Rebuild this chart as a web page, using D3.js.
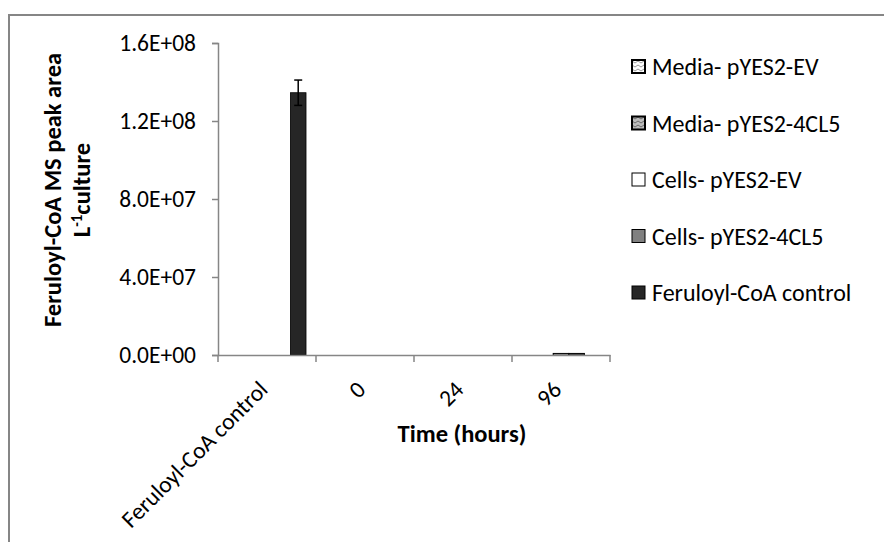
<!DOCTYPE html>
<html>
<head>
<meta charset="utf-8">
<script src="https://cdn.jsdelivr.net/npm/d3@7"></script>
<style>
  html, body { margin: 0; padding: 0; background: #fff; }
  svg { display: block; }
  text { font-family: Calibri, Carlito, Lato, "Open Sans", sans-serif; fill: #000; }
</style>
</head>
<body>
<svg id="chart" width="884" height="542"></svg>
<script>
// Feruloyl-CoA MS peak area per litre of culture, by sample and time point
const categories = ["Feruloyl-CoA control", "0", "24", "96"];
const seriesNames = ["Media- pYES2-EV", "Media- pYES2-4CL5", "Cells- pYES2-EV", "Cells- pYES2-4CL5", "Feruloyl-CoA control"];
const mediaEV     = [0, 0, 0, 0];
const media4CL5   = [0, 0, 0, 0];
const cellsEV     = [0, 0, 0, 8.0e5];
const cells4CL5   = [0, 0, 0, 8.0e5];
const control     = [1.345e8, 0, 0, 0];
const controlErr  = [6.5e6, 0, 0, 0];
const yTicks = [0, 4e7, 8e7, 1.2e8, 1.6e8];
const yTickLabels = ["0.0E+00", "4.0E+07", "8.0E+07", "1.2E+08", "1.6E+08"];

const seriesValues = [mediaEV, media4CL5, cellsEV, cells4CL5, control];
const seriesErrors = [null, null, null, null, controlErr];

const svg = d3.select("#chart");
const axisColor = "#868686";
const labelSize = "23.5px";
const titleSize = "24.5px";

// patterns for the two "Media" series
const defs = svg.append("defs");
function zigzag(id, bg, line) {
  const p = defs.append("pattern")
    .attr("id", id).attr("patternUnits", "userSpaceOnUse")
    .attr("width", 6).attr("height", 4);
  p.append("rect").attr("width", 6).attr("height", 4).attr("fill", bg);
  p.append("path").attr("d", "M0,1 L3,3 L6,1").attr("fill", "none")
    .attr("stroke", line).attr("stroke-width", 1);
}
zigzag("patMediaEV", "#ffffff", "#9a9a9a");
zigzag("patMedia4CL5", "#bdbdbd", "#6a6a6a");

const fills = ["url(#patMediaEV)", "url(#patMedia4CL5)", "#ffffff", "#808080", "#262626"];
const strokes = ["#000", "#000", "#000", "#000", "#000"];
const strokeW = [1.5, 1.5, 1, 1, 0.8];

// chart frame
svg.append("path")
  .attr("d", "M9,560 L9,15 L900,15")
  .attr("fill", "none").attr("stroke", axisColor).attr("stroke-width", 2);

const plot = { left: 218, right: 610, top: 43, bottom: 355 };

const x0 = d3.scaleBand().domain(categories).range([plot.left, plot.right]).paddingInner(0).paddingOuter(0);
const x1 = d3.scaleBand().domain(seriesNames).range([0, x0.bandwidth()]).paddingInner(0).paddingOuter(0.64);
const y = d3.scaleLinear().domain([0, 1.6e8]).range([plot.bottom, plot.top]);

// bars
seriesNames.forEach((name, si) => {
  const g = svg.append("g");
  g.selectAll("rect").data(categories.map((c, ci) => ({ c, v: seriesValues[si][ci] })).filter(d => d.v > 0))
    .join("rect")
    .attr("x", d => x0(d.c) + x1(name))
    .attr("y", d => y(d.v))
    .attr("width", x1.bandwidth())
    .attr("height", d => y(0) - y(d.v))
    .attr("fill", fills[si])
    .attr("stroke", strokes[si])
    .attr("stroke-width", strokeW[si]);
  const errs = seriesErrors[si];
  if (errs) {
    const eg = svg.append("g").attr("stroke", "#000").attr("stroke-width", 1.5);
    categories.forEach((c, ci) => {
      if (!errs[ci]) return;
      const cx = x0(c) + x1(name) + x1.bandwidth() / 2;
      const v = seriesValues[si][ci];
      eg.append("line").attr("x1", cx).attr("x2", cx).attr("y1", y(v + errs[ci])).attr("y2", y(v - errs[ci]));
      eg.append("line").attr("x1", cx - 4).attr("x2", cx + 4).attr("y1", y(v + errs[ci])).attr("y2", y(v + errs[ci]));
      eg.append("line").attr("x1", cx - 4).attr("x2", cx + 4).attr("y1", y(v - errs[ci])).attr("y2", y(v - errs[ci]));
    });
  }
});

// y axis
const yAxis = d3.axisLeft(y).tickValues(yTicks).tickSize(6).tickPadding(16)
  .tickFormat((d, i) => yTickLabels[i]);
const gy = svg.append("g").attr("transform", `translate(${plot.left},0)`).call(yAxis);
gy.select(".domain").attr("stroke", axisColor).attr("stroke-width", 1.5);
gy.selectAll(".tick line").attr("stroke", axisColor).attr("stroke-width", 1.5);
gy.selectAll(".tick text").style("font-size", labelSize).attr("fill", "#262626")
  .style("font-family", "Calibri, Carlito, Lato, sans-serif");

// x axis
const xAxis = d3.axisBottom(x0).tickSize(0).tickFormat("");
const gx = svg.append("g").attr("transform", `translate(0,${plot.bottom})`).call(xAxis);
gx.select(".domain").attr("stroke", axisColor).attr("stroke-width", 1.5);
const tickPos = categories.map(c => x0(c)).concat([plot.right]);
gx.selectAll("line.sep").data(tickPos).join("line").attr("class", "sep")
  .attr("x1", d => d).attr("x2", d => d).attr("y1", 0).attr("y2", 7)
  .attr("stroke", axisColor).attr("stroke-width", 1.5);
gx.selectAll("text.cat").data(categories).join("text").attr("class", "cat")
  .attr("transform", d => `translate(${x0(d) + x0.bandwidth() / 2 + 2},${36}) rotate(-45)`)
  .attr("text-anchor", "end")
  .style("font-size", labelSize).attr("fill", "#262626")
  .text(d => d);

// axis titles
svg.append("text")
  .attr("x", 462).attr("y", 442)
  .attr("text-anchor", "middle")
  .style("font-size", titleSize).style("font-weight", "bold")
  .text("Time (hours)");

const yt = svg.append("text")
  .attr("transform", "translate(61,190) rotate(-90)")
  .attr("text-anchor", "middle")
  .style("font-size", titleSize).style("font-weight", "bold");
yt.append("tspan").attr("x", 0).attr("y", 0).text("Feruloyl-CoA MS peak area");
const yt2 = svg.append("text")
  .attr("transform", "translate(90,190) rotate(-90)")
  .attr("text-anchor", "middle")
  .style("font-size", titleSize).style("font-weight", "bold");
yt2.append("tspan").text("L");
yt2.append("tspan").attr("dy", -8).style("font-size", "15px").text("-1");
yt2.append("tspan").attr("dy", 8).text("culture");

// legend
const legend = svg.append("g").attr("transform", "translate(632,0)");
const legY = d3.scalePoint().domain(seriesNames).range([67, 293]);
seriesNames.forEach((name, i) => {
  const cy = legY(name);
  legend.append("rect")
    .attr("x", 0).attr("y", cy - 7).attr("width", 13).attr("height", 13)
    .attr("fill", fills[i])
    .attr("stroke", strokes[i]).attr("stroke-width", i < 2 ? 2 : 1);
  legend.append("text")
    .attr("x", 20).attr("y", cy).attr("dy", "0.35em")
    .style("font-size", "24px").attr("fill", "#262626")
    .text(name);
});
</script>
</body>
</html>
